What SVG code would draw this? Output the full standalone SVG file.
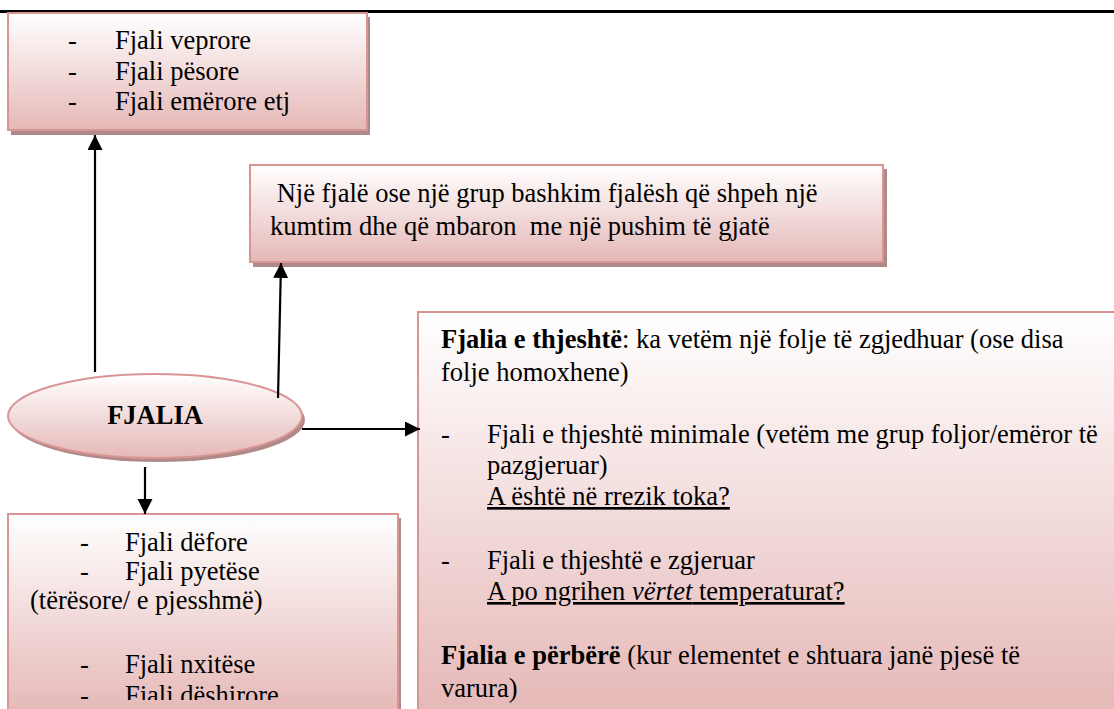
<svg xmlns="http://www.w3.org/2000/svg" width="1114" height="709" viewBox="0 0 1114 709" font-family="'Liberation Serif', Tinos, 'Times New Roman', Times, 'DejaVu Serif', serif">
<style>
  text { font-family: "Liberation Serif", Tinos, "Times New Roman", Times, "DejaVu Serif", serif; font-size: 26.5px; fill: #000; }
  .b { font-weight: bold; }
  .u { text-decoration: underline; }
  .box { stroke: #D99594; stroke-width: 2; }
  .shadow { fill: #b08a89; }
  .conn { stroke: #000; stroke-width: 2.2; fill: none; marker-end: url(#arrow); }
</style>
<defs>
  <linearGradient id="g1" x1="0" y1="0" x2="0" y2="1">
    <stop offset="0" stop-color="#FFFFFF"/>
    <stop offset="1" stop-color="#E5B8B7"/>
  </linearGradient>
  <marker id="arrow" markerUnits="userSpaceOnUse" markerWidth="16" markerHeight="16" refX="15" refY="7.5" orient="auto" viewBox="0 0 16 16">
    <path d="M0,0 L15,7.5 L0,15 Z" fill="#000"/>
  </marker>
  <clipPath id="clip4"><rect x="8" y="514" width="392" height="186"/></clipPath>
</defs>
<rect width="1114" height="709" fill="#fff"/>
<rect x="0" y="10" width="1114" height="3" fill="#000"/>

<g id="box-veprore">
  <rect class="shadow" x="11" y="17" width="359" height="118"/>
  <rect class="box" x="8" y="13" width="359" height="117" fill="url(#g1)"/>
  <text x="68" y="49">-</text><text x="115" y="49">Fjali veprore</text>
  <text x="68" y="80">-</text><text x="115" y="80">Fjali pësore</text>
  <text x="68" y="110">-</text><text x="115" y="110">Fjali emërore etj</text>
</g>

<g id="box-definition">
  <rect class="shadow" x="253" y="169" width="634" height="98"/>
  <rect class="box" x="250" y="165" width="633" height="97" fill="url(#g1)"/>
  <text x="270" y="202" xml:space="preserve"> Një fjalë ose një grup bashkim fjalësh që shpeh një</text>
  <text x="270" y="235" xml:space="preserve">kumtim dhe që mbaron  me një pushim të gjatë</text>
</g>

<g id="node-fjalia">
  <ellipse class="shadow" cx="158" cy="420" rx="147" ry="42"/>
  <ellipse class="box" cx="155" cy="416" rx="147" ry="42" fill="url(#g1)"/>
  <text class="b" x="155" y="424" text-anchor="middle">FJALIA</text>
</g>

<g id="box-types">
  <rect class="shadow" x="11" y="518" width="390" height="200"/>
  <rect class="box" x="8" y="514" width="390" height="200" fill="url(#g1)"/>
  <g clip-path="url(#clip4)">
    <text x="80" y="551">-</text><text x="125" y="551">Fjali dëfore</text>
    <text x="80" y="580">-</text><text x="125" y="580">Fjali pyetëse</text>
    <text x="30" y="609">(tërësore/ e pjesshmë)</text>
    <text x="80" y="673">-</text><text x="125" y="673">Fjali nxitëse</text>
    <text x="80" y="704">-</text><text x="125" y="704">Fjali dëshirore</text>
  </g>
</g>

<g id="box-structure">
  <rect class="box" x="418" y="312" width="700" height="402" fill="url(#g1)"/>
  <text x="441" y="348"><tspan class="b">Fjalia e thjeshtë</tspan>: ka vetëm një folje të zgjedhuar (ose disa</text>
  <text x="441" y="381">folje homoxhene)</text>
  <text x="441" y="443">-</text><text x="487" y="443">Fjali e thjeshtë minimale (vetëm me grup foljor/emëror të</text>
  <text x="487" y="474">pazgjeruar)</text>
  <text class="u" x="487" y="505">A është në rrezik toka?</text>
  <text x="441" y="569">-</text><text x="487" y="569">Fjali e thjeshtë e zgjeruar</text>
  <text class="u" x="487" y="600">A po ngrihen <tspan font-style="italic">vërtet</tspan> temperaturat?</text>
  <text x="441" y="664"><tspan class="b">Fjalia e përbërë</tspan> (kur elementet e shtuara janë pjesë të</text>
  <text x="441" y="697">varura)</text>
</g>

<g id="connectors">
  <path class="conn" d="M95,372 L95,135"/>
  <path class="conn" d="M278,398 L281,263"/>
  <path class="conn" d="M302,429 L420,429"/>
  <path class="conn" d="M145,467 L145,514"/>
</g>
</svg>
